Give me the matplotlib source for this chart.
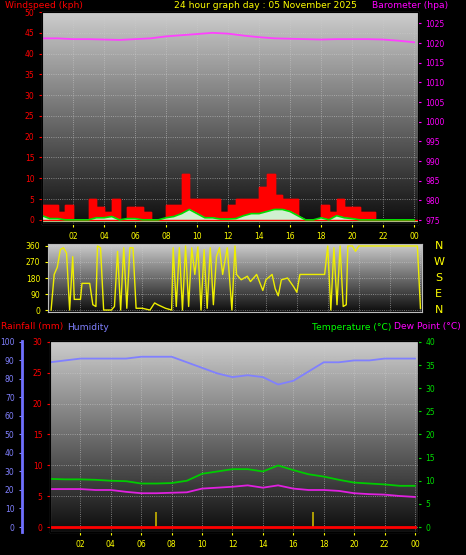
import matplotlib.pyplot as plt
import numpy as np

# ---- data ----
hours = list(range(25))
baro = [1021.2, 1021.2, 1021.0, 1021.0, 1020.9, 1020.8, 1021.0, 1021.2, 1021.7, 1022.0,
        1022.3, 1022.6, 1022.4, 1021.9, 1021.5, 1021.2, 1021.1, 1021.0, 1020.9, 1021.0,
        1021.0, 1021.0, 1020.9, 1020.6, 1020.2]

half_hours = [i * 0.5 for i in range(49)]
gust = [3.5, 3.5, 2, 3.5, 0, 0, 5, 3, 2, 5, 0, 3, 3, 2, 0, 0, 3.5, 3.5, 11, 5,
        5, 5, 5, 2, 3.5, 5, 5, 5, 8, 11, 6, 5, 5, 0, 0, 0, 3.5, 2, 5, 3,
        3, 2, 2, 0, 0, 0, 0, 0, 0]
avg_wind = [1, 0.3, 0.3, 0, 0, 0, 0, 0.5, 0.5, 0.8, 0, 0.3, 0.3, 0, 0, 0, 0.5, 0.8, 1.5, 2.5,
            1.5, 0.5, 0.5, 0.2, 0.2, 0.3, 1, 1.5, 1.5, 2, 2.5, 2.5, 2, 1, 0, 0, 0.5, 0, 1, 0.5,
            0.3, 0, 0, 0, 0, 0, 0, 0, 0]

dir_t = [0.1, 0.3, 0.5, 0.7, 0.9, 1.1, 1.3, 1.5, 1.6, 2.0, 2.1, 2.6, 2.8, 3.0, 3.1, 3.3, 3.5,
         4.0, 4.2, 4.4, 4.6, 4.8, 5.0, 5.2, 5.4, 5.6, 6.0, 6.5, 6.8, 7.0, 7.5, 7.9, 8.0, 8.2,
         8.4, 8.6, 8.8, 9.0, 9.2, 9.4, 9.6, 9.8, 10.0, 10.2, 10.4, 10.6, 10.8, 11.0, 11.2,
         11.5, 11.8, 12.0, 12.1, 12.4, 12.8, 13.0, 13.4, 13.8, 14.0, 14.4, 14.6, 14.8, 15.0,
         15.4, 15.8, 16.0, 16.2, 17.0, 17.8, 18.0, 18.2, 18.4, 18.6, 18.8, 19.0, 19.2, 19.3,
         19.6, 19.8, 20.0, 22.0, 23.8, 24.0]
dir_v = [0, 200, 240, 340, 350, 320, 0, 300, 60, 60, 150, 150, 30, 20, 360, 350, 0,
         0, 20, 330, 0, 350, 10, 350, 350, 10, 10, 0, 40, 30, 10, 0, 350, 20,
         350, 0, 360, 20, 350, 200, 355, 0, 340, 10, 350, 30, 300, 350, 200,
         350, 0, 360, 200, 170, 190, 160, 200, 110, 170, 200, 120, 80, 170,
         180, 130, 100, 200, 200, 200, 360, 0, 350, 30, 360, 20, 30, 360,
         360, 330, 360, 360, 360, 10]

temp = [10.4, 10.3, 10.3, 10.2, 10.0, 9.9, 9.4, 9.4, 9.5, 10.0, 11.5, 12.0, 12.5, 12.5, 12.0,
        13.3, 12.3, 11.4, 10.9, 10.2, 9.6, 9.4, 9.2, 8.9, 8.9]
dew = [8.2, 8.2, 8.2, 8.0, 8.0, 7.6, 7.3, 7.3, 7.4, 7.5, 8.3, 8.5, 8.7, 9.0, 8.5, 9.0, 8.3,
       8.0, 8.0, 7.8, 7.3, 7.1, 7.0, 6.7, 6.5]
humidity = [89, 90, 91, 91, 91, 91, 92, 92, 92, 89, 86, 83, 81, 82, 81, 77, 79, 84, 89, 89,
            90, 90, 91, 91, 91]
rainfall = [0] * 25
rain_marks_t = [7.0, 17.3]
rain_marks_v = [2.5, 2.5]

xtick_pos = list(range(2, 25, 2))
xtick_lab = ["%02d" % (h % 24) for h in xtick_pos]

W, H = 466, 555
fig = plt.figure(figsize=(W / 100, H / 100), dpi=100, facecolor="black")
FS = 5.5


def box(l, t, r, b):
    return [l / W, (H - b) / H, (r - l) / W, (b - t) / H]


def style(ax):
    grad = np.linspace(0.05, 0.8, 256).reshape(-1, 1)
    ax.imshow(grad, extent=[0, 1, 0, 1], transform=ax.transAxes, aspect="auto",
              cmap="gray", vmin=0, vmax=1, origin="lower", zorder=0)
    ax.set_facecolor("black")
    ax.grid(True, color="#cccccc", linestyle=":", linewidth=0.6, alpha=0.7)
    for s in ax.spines.values():
        s.set_color("#bbbbbb")
    ax.set_xticks(xtick_pos)
    ax.set_xticklabels(xtick_lab)
    ax.tick_params(axis="x", colors="yellow", labelsize=FS, length=2)


# ---- top: wind and barometer ----
ax1 = fig.add_axes(box(42, 12, 418, 224))
style(ax1)
ax1.set_xlim(0, 24.25)
ax1.set_ylim(-1, 50)
ax1.set_yticks(range(0, 51, 5))
ax1.tick_params(axis="y", colors="red", labelsize=FS, length=2)
ax1.fill_between(half_hours, gust, step="post", color="red", zorder=2)
ax1.step(half_hours, gust, where="post", color="red", lw=1, zorder=2)
ax1.fill_between(half_hours, avg_wind, color="#d0f0d0", zorder=3)
ax1.plot(half_hours, avg_wind, color="#00dd00", lw=1.2, zorder=4)
ax1.axhline(-0.3, color="#a0e8a0", lw=1.5, zorder=3)
ax1.axhline(0, color="red", lw=1, zorder=3)
ax1b = ax1.twinx()
ax1b.set_ylim(974.0, 1027.9)
ax1b.set_yticks(range(975, 1026, 5))
ax1b.tick_params(axis="y", colors="magenta", labelsize=FS, length=2)
ax1b.plot(hours, baro, color="#ff40ff", lw=1.3)

# ---- middle: wind direction ----
ax2 = fig.add_axes(box(48, 244, 422, 312))
style(ax2)
ax2.set_xlim(-0.1, 24.1)
ax2.set_ylim(-11, 371)
ax2.set_yticks([0, 90, 180, 270, 360])
ax2.tick_params(axis="y", colors="yellow", labelsize=FS, length=2)
ax2.tick_params(axis="x", labelbottom=False, length=0)
ax2.plot(dir_t, dir_v, color="#eeee00", lw=1)
for lab, v in zip(["N", "W", "S", "E", "N"], [360, 270, 180, 90, 0]):
    ax2.text(1.045, (v + 11) / 382, lab, transform=ax2.transAxes, color="yellow",
             fontsize=8, ha="center", va="center")

# ---- bottom: rain, humidity, temperature ----
ax3 = fig.add_axes(box(50, 341, 418, 532))
style(ax3)
ax3.set_xlim(0, 24.2)
ax3.set_ylim(-0.81, 30.16)
ax3.set_yticks(range(0, 31, 5))
ax3.tick_params(axis="y", colors="red", labelsize=FS, length=2)
ax3.plot(hours, rainfall, color="red", lw=2, zorder=5)
ax3.vlines(rain_marks_t, 0, rain_marks_v, color="#c8b400", lw=1.2, zorder=4)

ax3h = ax3.twinx()
ax3h.yaxis.set_ticks_position("left")
ax3h.yaxis.set_label_position("left")
ax3h.spines["left"].set_position(("outward", 20))
ax3h.spines["left"].set_color("#7070ff")
ax3h.spines["left"].set_linewidth(2)
ax3h.set_ylim(-2.7, 100.5)
ax3h.set_yticks(range(0, 101, 10))
ax3h.tick_params(axis="y", colors="#8080ff", labelsize=FS, length=2)
ax3h.plot(hours, humidity, color="#8080ff", lw=1.3)

ax3t = ax3.twinx()
ax3t.set_ylim(-1.08, 40.2)
ax3t.set_yticks(range(0, 41, 5))
ax3t.tick_params(axis="y", colors="#00dd00", labelsize=FS, length=2)
ax3t.plot(hours, temp, color="#00cc00", lw=1.3)
ax3t.plot(hours, dew, color="#e020e0", lw=1.3)

# ---- titles ----
def ftext(x, y, s, c, ha="left"):
    fig.text(x / W, 1 - y / H, s, color=c, fontsize=6.6, ha=ha, va="center")


ftext(5, 5, "Windspeed (kph)", "red")
ftext(265, 5, "24 hour graph day : 05 November 2025", "yellow", ha="center")
ftext(372, 5, "Barometer (hpa)", "magenta")
ftext(1, 327, "Rainfall (mm)", "red")
ftext(67, 327, "Humidity", "#8080ff")
ftext(312, 327, "Temperature (°C)", "#00ff00")
ftext(394, 327, "Dew Point (°C)", "magenta")

fig.savefig("out.png", dpi=100, facecolor="black")
